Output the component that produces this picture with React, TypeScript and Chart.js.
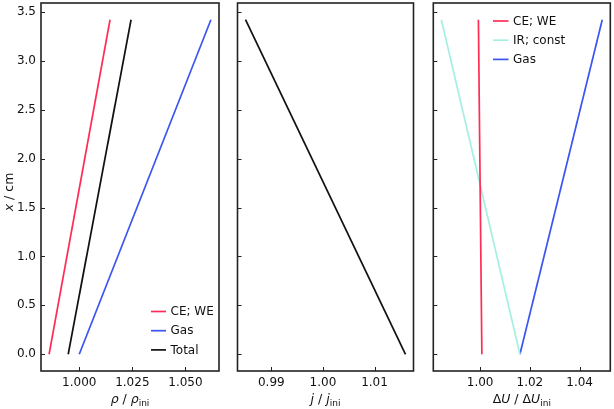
import React, { useEffect, useRef } from 'react';
import { Chart, registerables } from 'chart.js';

Chart.register(...registerables);

// ---- data ----
const positions = [0, 3.42]; // x / cm
const rhoCE = [0.9858, 1.0145];
const rhoGas = [1.0, 1.062];
const rhoTotal = [0.9948, 1.0244];
const jRatio = [1.016, 0.985];
const duCE = [1.0007, 0.9993];
const duIR = [1.016, 0.9844];
const duGas = [1.016, 1.0491];

const yTickValues = [0, 0.5, 1.0, 1.5, 2.0, 2.5, 3.0, 3.5];
const rhoTickValues = [1.0, 1.025, 1.05];
const jTickValues = [0.99, 1.0, 1.01];
const duTickValues = [1.0, 1.02, 1.04];

const RED = '#ff2d55';
const BLUE = '#3b55f0';
const CYAN = '#a6f0e2';
const BLACK = '#111111';
const TEXT = '#111111';
const FONT = "'DejaVu Sans', 'Noto Sans', sans-serif";

function marginRange(values: number[]) {
  const mn = Math.min(...values);
  const mx = Math.max(...values);
  const s = mx - mn;
  return { min: mn - 0.05 * s, max: mx + 0.05 * s };
}

type Part = { t: string; italic?: boolean; sub?: boolean };

function drawParts(ctx: CanvasRenderingContext2D, parts: Part[], cx: number, baseline: number, size: number) {
  const fontFor = (p: Part) => `${p.italic ? 'italic ' : ''}${p.sub ? size * 0.72 : size}px ${FONT}`;
  let total = 0;
  const widths = parts.map((p) => {
    ctx.font = fontFor(p);
    const w = ctx.measureText(p.t).width;
    total += w;
    return w;
  });
  let x = cx - total / 2;
  ctx.textAlign = 'left';
  ctx.textBaseline = 'alphabetic';
  parts.forEach((p, i) => {
    ctx.font = fontFor(p);
    ctx.fillText(p.t, x, baseline + (p.sub ? size * 0.22 : 0));
    x += widths[i];
  });
}

const decorPlugin = {
  id: 'decor',
  afterDraw(chart: any, _args: any, opts: any) {
    const ctx: CanvasRenderingContext2D = chart.ctx;
    const { left, right, top, bottom } = chart.chartArea;
    ctx.save();
    // inward ticks
    ctx.strokeStyle = '#222';
    ctx.lineWidth = 1;
    const xs = chart.scales.x;
    const ys = chart.scales.y;
    xs.ticks.forEach((t: any) => {
      const px = Math.round(xs.getPixelForValue(t.value)) + 0.5;
      ctx.beginPath();
      ctx.moveTo(px, bottom);
      ctx.lineTo(px, bottom - 4);
      ctx.stroke();
    });
    ys.ticks.forEach((t: any) => {
      const py = Math.round(ys.getPixelForValue(t.value)) + 0.5;
      ctx.beginPath();
      ctx.moveTo(left, py);
      ctx.lineTo(left + 4, py);
      ctx.stroke();
    });
    // frame
    ctx.lineWidth = 1.6;
    ctx.strokeStyle = '#222';
    ctx.strokeRect(left, top, right - left, bottom - top);

    // legend
    if (opts.legend) {
      const L = opts.legend;
      chart.data.datasets.forEach((ds: any, i: number) => {
        const y = L.y + i * L.dy;
        ctx.strokeStyle = ds.borderColor;
        ctx.lineWidth = 1.7;
        ctx.beginPath();
        ctx.moveTo(L.x, y);
        ctx.lineTo(L.x + L.len, y);
        ctx.stroke();
        ctx.fillStyle = TEXT;
        ctx.font = `12px ${FONT}`;
        ctx.textAlign = 'left';
        ctx.textBaseline = 'middle';
        ctx.fillText(ds.label, L.x + L.len + L.gap, y + 0.5);
      });
    }

    // x title
    ctx.fillStyle = TEXT;
    if (opts.xTitle) {
      drawParts(ctx, opts.xTitle, (left + right) / 2, opts.xTitleBaseline, 12.5);
    }
    // y title
    if (opts.yTitle) {
      ctx.save();
      ctx.translate(opts.yTitleX, (top + bottom) / 2 + 5);
      ctx.rotate(-Math.PI / 2);
      drawParts(ctx, opts.yTitle, 0, 0, 12.5);
      ctx.restore();
    }
    ctx.restore();
  },
};

type PanelDef = {
  left: number;
  width: number;
  yAxisWidth: number;
  padRight: number;
  datasets: { label: string; color: string; values: number[] }[];
  xTicks: number[];
  decimals: number;
  showYLabels: boolean;
  decor: any;
};

function makeConfig(p: PanelDef): any {
  const allX = p.datasets.flatMap((d) => d.values);
  const xr = marginRange(allX);
  const yr = marginRange(positions);
  return {
    type: 'line',
    data: {
      datasets: p.datasets.map((d) => ({
        label: d.label,
        data: positions.map((pos, i) => ({ x: d.values[i], y: pos })),
        borderColor: d.color,
        backgroundColor: d.color,
        borderWidth: 1.7,
        pointRadius: 0,
        tension: 0,
        fill: false,
      })),
    },
    options: {
      responsive: false,
      animation: false,
      devicePixelRatio: 1,
      layout: { padding: { top: 3, right: p.padRight, left: 0, bottom: 0 } },
      plugins: {
        legend: { display: false },
        tooltip: { enabled: false },
        decor: p.decor,
      },
      scales: {
        x: {
          type: 'linear',
          min: xr.min,
          max: xr.max,
          grid: { display: false, drawTicks: false },
          border: { display: false },
          afterBuildTicks: (s: any) => {
            s.ticks = p.xTicks.map((v) => ({ value: v }));
          },
          afterFit: (s: any) => {
            s.height = 38;
            s.paddingLeft = 0;
            s.paddingRight = 0;
            s.paddingTop = 0;
            s.paddingBottom = 0;
          },
          ticks: {
            autoSkip: false,
            maxRotation: 0,
            padding: 5,
            color: TEXT,
            font: { family: FONT, size: 12 },
            callback: (v: any) => Number(v).toFixed(p.decimals),
          },
        },
        y: {
          type: 'linear',
          min: yr.min,
          max: yr.max,
          grid: { display: false, drawTicks: false },
          border: { display: false },
          afterBuildTicks: (s: any) => {
            s.ticks = yTickValues.map((v) => ({ value: v }));
          },
          afterFit: (s: any) => {
            s.width = p.yAxisWidth;
            s.paddingLeft = 0;
            s.paddingRight = 0;
            s.paddingTop = 0;
            s.paddingBottom = 0;
          },
          ticks: {
            display: p.showYLabels,
            autoSkip: false,
            padding: 5,
            color: TEXT,
            font: { family: FONT, size: 12 },
            callback: (v: any) => Number(v).toFixed(1),
          },
        },
      },
    },
    plugins: [decorPlugin],
  };
}

const panels: PanelDef[] = [
  {
    left: 0,
    width: 228,
    yAxisWidth: 41,
    padRight: 9,
    datasets: [
      { label: 'CE; WE', color: RED, values: rhoCE },
      { label: 'Gas', color: BLUE, values: rhoGas },
      { label: 'Total', color: BLACK, values: rhoTotal },
    ],
    xTicks: rhoTickValues,
    decimals: 3,
    showYLabels: true,
    decor: {
      legend: { x: 151, y: 311.5, dy: 19.2, len: 15, gap: 4.5 },
      xTitle: [{ t: 'ρ', italic: true }, { t: ' / ' }, { t: 'ρ', italic: true }, { t: 'ini', sub: true }],
      xTitleBaseline: 403,
      yTitle: [{ t: 'x', italic: true }, { t: ' / cm' }],
      yTitleX: 13,
    },
  },
  {
    left: 228,
    width: 190,
    yAxisWidth: 9.5,
    padRight: 4.5,
    datasets: [{ label: 'j', color: BLACK, values: jRatio }],
    xTicks: jTickValues,
    decimals: 2,
    showYLabels: false,
    decor: {
      xTitle: [{ t: 'j', italic: true }, { t: ' / ' }, { t: 'j', italic: true }, { t: 'ini', sub: true }],
      xTitleBaseline: 403,
    },
  },
  {
    left: 418,
    width: 196,
    yAxisWidth: 15.3,
    padRight: 3.7,
    datasets: [
      { label: 'CE; WE', color: RED, values: duCE },
      { label: 'IR; const', color: CYAN, values: duIR },
      { label: 'Gas', color: BLUE, values: duGas },
    ],
    xTicks: duTickValues,
    decimals: 2,
    showYLabels: false,
    decor: {
      legend: { x: 75, y: 21, dy: 19.2, len: 15.5, gap: 4.5 },
      xTitle: [{ t: 'Δ' }, { t: 'U', italic: true }, { t: ' / Δ' }, { t: 'U', italic: true }, { t: 'ini', sub: true }],
      xTitleBaseline: 403,
    },
  },
];

function Panel({ def }: { def: PanelDef }) {
  const ref = useRef<HTMLCanvasElement | null>(null);
  useEffect(() => {
    if (!ref.current) return;
    const chart = new Chart(ref.current, makeConfig(def));
    return () => chart.destroy();
  }, [def]);
  return (
    <canvas
      ref={ref}
      width={def.width}
      height={409}
      style={{ position: 'absolute', left: def.left, top: 0, width: def.width, height: 409 }}
    />
  );
}

export default function App() {
  return (
    <div style={{ position: 'fixed', left: 0, top: 0, width: 614, height: 409, background: '#fff' }}>
      {panels.map((p, i) => (
        <Panel key={i} def={p} />
      ))}
    </div>
  );
}
